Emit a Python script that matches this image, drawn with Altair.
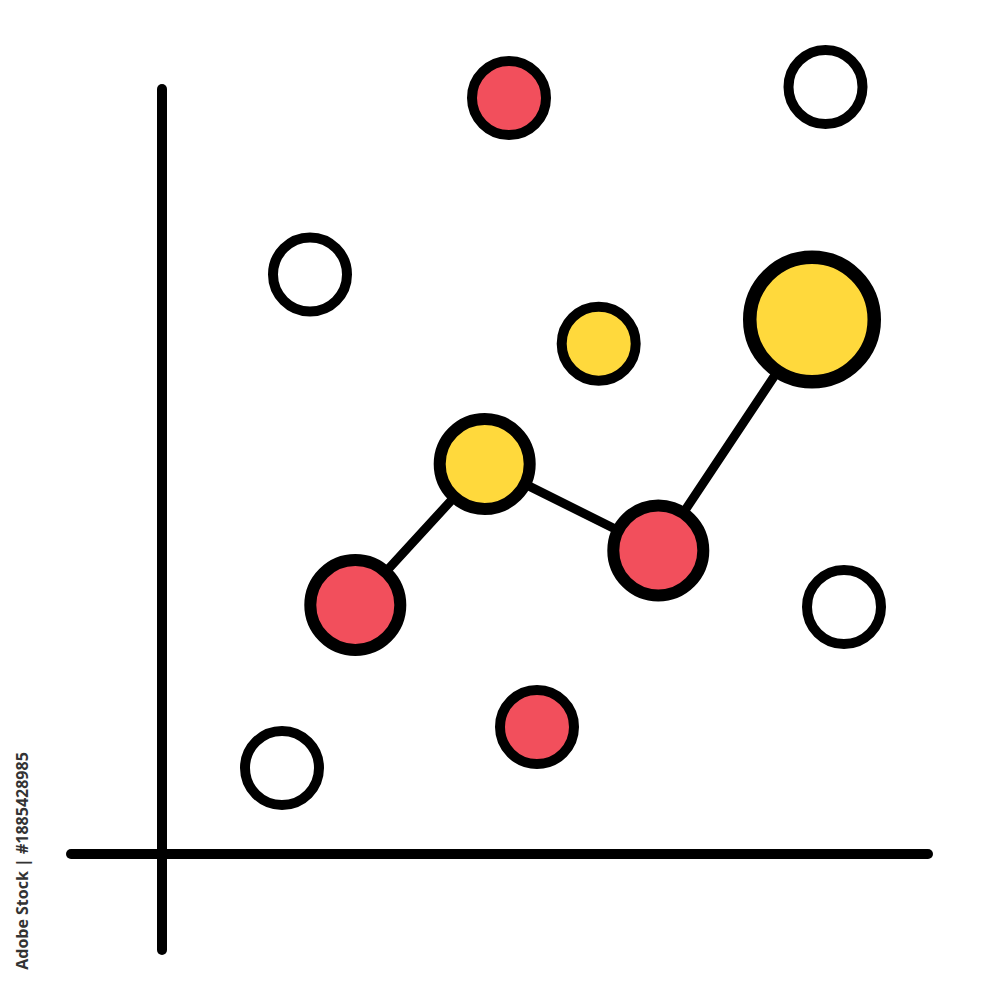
import altair as alt
import pandas as pd

# Scatter points (data units, origin at the axis crossing)
pt_x = [34.7, 66.35, 14.8, 43.67, 65.0, 32.27, 19.33, 49.63, 68.2, 37.5, 12.0]
pt_y = [75.6, 76.7, 57.95, 51.03, 53.45, 39.0, 24.9, 30.35, 24.7, 12.7, 8.6]
pt_kind = ["red", "open", "open", "yellow", "yellow", "yellow", "red", "red", "open", "red", "open"]
pt_weight = ["s", "s", "s", "s", "l", "m", "m", "m", "s", "s", "s"]

# Connected trend series
line_x = [19.33, 32.27, 49.63, 65.0]
line_y = [24.9, 39.0, 30.35, 53.45]

# Axis extents
vaxis_y = [-9.6, 76.5]
haxis_x = [-9.1, 76.6]

watermark = ["Adobe Stock | #1885428985"]

xs = alt.Scale(domain=[-15.4, 83.0], nice=False, zero=False)
ys = alt.Scale(domain=[-13.8, 84.6], nice=False, zero=False)

pts = pd.DataFrame({"x": pt_x, "y": pt_y, "kind": pt_kind, "w": pt_weight})
line_df = pd.DataFrame({"x": line_x, "y": line_y, "order": list(range(len(line_x)))})
vdf = pd.DataFrame({"x": [0, 0], "y": vaxis_y, "o": [0, 1]})
hdf = pd.DataFrame({"x": haxis_x, "y": [0, 0], "o": [0, 1]})
wdf = pd.DataFrame({"t": watermark})

vline = alt.Chart(vdf).mark_line(color="black", strokeWidth=10, strokeCap="round").encode(
    x=alt.X("x:Q", scale=xs, axis=None),
    y=alt.Y("y:Q", scale=ys, axis=None),
    order="o:Q",
)
hline = alt.Chart(hdf).mark_line(color="black", strokeWidth=10, strokeCap="round").encode(
    x=alt.X("x:Q", scale=xs, axis=None),
    y=alt.Y("y:Q", scale=ys, axis=None),
    order="o:Q",
)
trend = alt.Chart(line_df).mark_line(color="black", strokeWidth=9).encode(
    x=alt.X("x:Q", scale=xs, axis=None),
    y=alt.Y("y:Q", scale=ys, axis=None),
    order="order:Q",
)
circles = alt.Chart(pts).mark_point(shape="circle", filled=False, opacity=1, stroke="black").encode(
    x=alt.X("x:Q", scale=xs, axis=None),
    y=alt.Y("y:Q", scale=ys, axis=None),
    fill=alt.Fill("kind:N", scale=alt.Scale(domain=["red", "yellow", "open"],
                                            range=["#F24F5C", "#FFD93C", "#FFFFFF"]), legend=None),
    size=alt.Size("w:N", scale=alt.Scale(type="ordinal", domain=["s", "m", "l"],
                                         range=[5476, 8100, 15500]), legend=None),
    strokeWidth=alt.StrokeWidth("w:N", scale=alt.Scale(type="ordinal", domain=["s", "m", "l"],
                                                       range=[10, 12, 13.5]), legend=None),
)
wm = alt.Chart(wdf).mark_text(
    angle=270, align="center", baseline="middle", font="Open Sans", fontSize=16,
    fontWeight="bold", color="#333333"
).encode(
    text="t:N",
    x=alt.value(15),
    y=alt.value(853),
)

chart = alt.layer(vline, hline, trend, circles, wm).properties(
    width=984, height=984, padding=0, autosize=alt.AutoSizeParams(type="none"),
).configure_view(stroke=None)

chart.save("out.html", embed_options={"renderer": "svg", "actions": False})
